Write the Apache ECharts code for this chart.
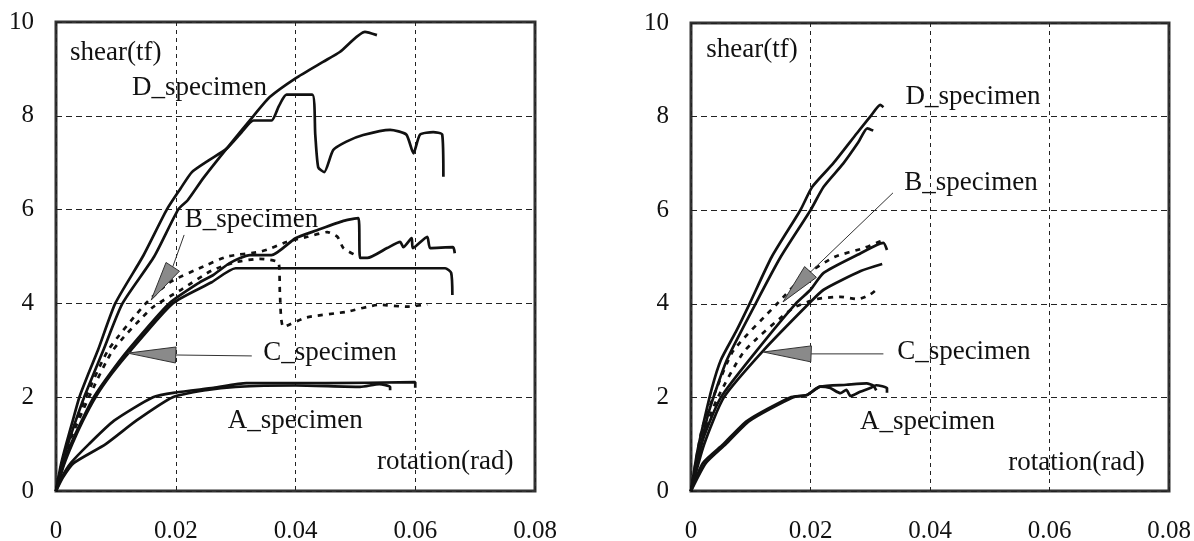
<!DOCTYPE html>
<html>
<head>
<meta charset="utf-8">
<script src="https://cdn.jsdelivr.net/npm/echarts@6/dist/echarts.min.js"></script>
<style>
  html, body { margin: 0; padding: 0; background: #fff; }
  #main { width: 1194px; height: 541px; }
</style>
</head>
<body>
<div id="main"></div>
<script>
// left panel curves [rotation(rad), shear(tf)]
var leftD1 = [[0,0],[0.0008,0.55],[0.0017,1.0],[0.0028,1.5],[0.0039,2.0],[0.0054,2.5],[0.007,3.0],[0.0099,4.0],[0.0145,5.0],[0.0185,6.0],[0.0208,6.45],[0.0227,6.8],[0.0255,7.05],[0.0285,7.3],[0.031,7.65],[0.033,7.9],[0.036,7.9],[0.0372,8.2],[0.0385,8.45],[0.0428,8.45],[0.0433,7.6],[0.0438,6.9],[0.0448,6.8],[0.0463,7.27],[0.0485,7.45],[0.0513,7.59],[0.0558,7.7],[0.0585,7.6],[0.0597,7.2],[0.0608,7.6],[0.063,7.65],[0.0645,7.6],[0.0647,6.7]];
var leftD2 = [[0,0],[0.001,0.55],[0.002,1.0],[0.0033,1.5],[0.0047,2.0],[0.0079,3.0],[0.0111,4.0],[0.0164,5.0],[0.0204,6.0],[0.022,6.2],[0.0246,6.67],[0.0285,7.3],[0.033,8.0],[0.0357,8.4],[0.040,8.8],[0.0446,9.15],[0.0474,9.36],[0.0516,9.79],[0.0536,9.72]];
var leftB = [[0,0],[0.0012,0.55],[0.0025,1.0],[0.0043,1.5],[0.0063,2.0],[0.009,2.5],[0.012,3.0],[0.0189,4.0],[0.024,4.45],[0.0262,4.6],[0.029,4.86],[0.0324,5.03],[0.036,5.03],[0.040,5.39],[0.0436,5.56],[0.048,5.76],[0.0505,5.82],[0.0508,4.97],[0.052,4.97],[0.0553,5.18],[0.0575,5.31],[0.058,5.2],[0.0594,5.39],[0.0596,5.18],[0.062,5.42],[0.0625,5.18],[0.0663,5.2],[0.0666,5.07]];
var leftC = [[0,0],[0.0013,0.55],[0.0027,1.0],[0.0045,1.5],[0.0066,2.0],[0.0093,2.5],[0.0125,3.0],[0.0195,4.0],[0.026,4.45],[0.030,4.75],[0.065,4.75],[0.066,4.65],[0.0662,4.18]];
var leftBDash = [[0,0],[0.001,0.6],[0.0022,1.1],[0.005,2.0],[0.0087,3.0],[0.015,4.0],[0.019,4.45],[0.0252,4.82],[0.0286,5.0],[0.034,5.1],[0.036,5.18],[0.0385,5.31],[0.042,5.42],[0.0453,5.52],[0.047,5.42],[0.048,5.18],[0.050,5.03]];
var leftCDash = [[0,0],[0.0011,0.6],[0.0024,1.1],[0.0055,2.0],[0.0095,3.0],[0.016,3.9],[0.021,4.3],[0.026,4.7],[0.030,4.88],[0.034,4.95],[0.0372,4.86],[0.0374,4.2],[0.038,3.5],[0.0418,3.7],[0.0485,3.82],[0.054,3.97],[0.0586,3.93],[0.062,3.98]];
var leftA1 = [[0,0],[0.001,0.3],[0.0025,0.6],[0.0055,1.0],[0.0097,1.5],[0.0162,2.0],[0.020,2.1],[0.0263,2.2],[0.0318,2.3],[0.045,2.3],[0.060,2.32],[0.060,2.2]];
var leftA2 = [[0,0],[0.0012,0.3],[0.003,0.6],[0.0083,1.0],[0.0134,1.5],[0.0195,2.0],[0.025,2.15],[0.030,2.22],[0.040,2.25],[0.0508,2.22],[0.054,2.28],[0.0558,2.22],[0.0558,2.15]];

// right panel curves
var rightD1 = [[0,0],[0.001,0.8],[0.002,1.4],[0.0035,2.2],[0.005,2.8],[0.0075,3.4],[0.0098,4.0],[0.0135,5.0],[0.0183,6.0],[0.0203,6.5],[0.0238,7.0],[0.0278,7.65],[0.030,8.0],[0.0317,8.25],[0.0322,8.2]];
var rightD2 = [[0,0],[0.0015,0.9],[0.003,1.7],[0.006,2.8],[0.0108,4.0],[0.015,5.0],[0.020,6.0],[0.0222,6.5],[0.0255,7.0],[0.028,7.45],[0.0295,7.75],[0.0305,7.7]];
var rightB = [[0,0],[0.002,1.1],[0.005,2.0],[0.011,3.0],[0.0175,4.0],[0.020,4.3],[0.0222,4.66],[0.0284,5.08],[0.031,5.25],[0.0322,5.3],[0.0328,5.15]];
var rightC = [[0,0],[0.0022,1.0],[0.0055,2.0],[0.0121,3.0],[0.0197,4.0],[0.0222,4.3],[0.0284,4.7],[0.032,4.85]];
var rightBDash = [[0,0],[0.0018,1.3],[0.004,2.1],[0.0071,3.0],[0.0144,4.0],[0.019,4.6],[0.024,5.0],[0.0289,5.19],[0.031,5.3],[0.032,5.35]];
var rightCDash = [[0,0],[0.002,1.2],[0.0045,2.0],[0.009,3.0],[0.017,3.9],[0.021,4.1],[0.025,4.15],[0.028,4.1],[0.030,4.2],[0.031,4.3]];
var rightA1 = [[0,0],[0.002,0.6],[0.0054,1.0],[0.0094,1.5],[0.0166,2.0],[0.0194,2.05],[0.0216,2.23],[0.026,2.27],[0.0294,2.3],[0.0305,2.25],[0.031,2.15]];
var rightA2 = [[0,0],[0.0025,0.6],[0.0058,1.0],[0.0098,1.5],[0.017,2.0],[0.0194,2.05],[0.0216,2.23],[0.0233,2.2],[0.025,2.09],[0.026,2.16],[0.0267,2.03],[0.0283,2.12],[0.030,2.2],[0.031,2.26],[0.0328,2.2],[0.0328,2.1]];

// text annotations: [x, y] and texts
var labelTexts = ['shear(tf)', 'D_specimen', 'B_specimen', 'C_specimen', 'A_specimen', 'rotation(rad)'];
var leftLabelPos = [[0.00234,9.34],[0.0127,8.59],[0.0215,5.78],[0.0346,2.94],[0.0287,1.49],[0.0536,0.62]];
var rightLabelPos = [[0.00256,9.42],[0.0359,8.42],[0.0357,6.58],[0.0345,2.97],[0.0283,1.47],[0.0531,0.6]];

// arrows: [tipX, tipY, baseX, baseY, endX, endY]
var leftArrows = [[0.0159,4.07,0.0195,4.78,0.0214,5.46],[0.012,2.94,0.020,2.9,0.0327,2.88]];
var rightArrows = [[0.0154,4.04,0.020,4.68,0.0338,6.37],[0.0121,2.97,0.0201,2.93,0.0322,2.93]];

var FONT = 'Liberation Serif, Times New Roman, serif';

var myChart = echarts.init(document.getElementById('main'));

function curve(data, idx, dashed) {
  return {
    type: 'line', xAxisIndex: idx, yAxisIndex: idx,
    data: data, showSymbol: false, silent: true,
    smooth: 0.2,
    lineStyle: { color: '#111', width: 2.7, type: dashed ? [5, 6] : 'solid' },
    z: 3
  };
}

function labels(pos, idx) {
  return {
    type: 'custom', xAxisIndex: idx, yAxisIndex: idx, silent: true, clip: false,
    data: pos,
    renderItem: function (params, api) {
      var p = api.coord([api.value(0), api.value(1)]);
      return {
        type: 'text', x: p[0], y: p[1],
        style: {
          text: labelTexts[params.dataIndex], fill: '#111',
          font: '27px ' + FONT, align: 'left', verticalAlign: 'middle'
        }
      };
    },
    z: 5
  };
}

function arrows(data, idx) {
  return {
    type: 'custom', xAxisIndex: idx, yAxisIndex: idx, silent: true, clip: false,
    data: data,
    encode: { x: [0, 2, 4], y: [1, 3, 5] },
    renderItem: function (params, api) {
      var t = api.coord([api.value(0), api.value(1)]);
      var b = api.coord([api.value(2), api.value(3)]);
      var e = api.coord([api.value(4), api.value(5)]);
      var dx = b[0] - t[0], dy = b[1] - t[1];
      var len = Math.sqrt(dx * dx + dy * dy);
      var nx = -dy / len * 8, ny = dx / len * 8;
      return {
        type: 'group',
        children: [
          { type: 'line', shape: { x1: b[0], y1: b[1], x2: e[0], y2: e[1] }, style: { stroke: '#333', lineWidth: 1 } },
          { type: 'polygon', shape: { points: [t, [b[0] + nx, b[1] + ny], [b[0] - nx, b[1] - ny]] },
            style: { fill: '#8a8a8a', stroke: '#333', lineWidth: 1 } }
        ]
      };
    },
    z: 4
  };
}

function xAxis(idx) {
  return {
    type: 'value', gridIndex: idx, min: 0, max: 0.08, interval: 0.02,
    axisLine: { show: false }, axisTick: { show: false },
    axisLabel: {
      margin: 28, color: '#111', fontFamily: FONT, fontSize: 25,
      formatter: function (v) { return v === 0 ? '0' : v.toFixed(2); }
    },
    splitLine: { show: true, lineStyle: { color: '#222', width: 1, type: [4, 4] } }
  };
}

function yAxis(idx) {
  return {
    type: 'value', gridIndex: idx, min: 0, max: 10, interval: 2,
    axisLine: { show: false }, axisTick: { show: false },
    axisLabel: { margin: 22, color: '#111', fontFamily: FONT, fontSize: 25 },
    splitLine: { show: true, lineStyle: { color: '#222', width: 1, type: [6, 4] } }
  };
}

var option = {
  backgroundColor: '#fff',
  animation: false,
  grid: [
    { left: 56, top: 22, width: 479, height: 469, outerBoundsMode: 'none', show: true, borderColor: '#333', borderWidth: 3, backgroundColor: 'transparent' },
    { left: 691, top: 23, width: 478, height: 468, outerBoundsMode: 'none', show: true, borderColor: '#333', borderWidth: 3, backgroundColor: 'transparent' }
  ],
  xAxis: [xAxis(0), xAxis(1)],
  yAxis: [yAxis(0), yAxis(1)],
  series: [
    curve(leftD1, 0), curve(leftD2, 0), curve(leftB, 0), curve(leftC, 0),
    curve(leftBDash, 0, true), curve(leftCDash, 0, true), curve(leftA1, 0), curve(leftA2, 0),
    curve(rightD1, 1), curve(rightD2, 1), curve(rightB, 1), curve(rightC, 1),
    curve(rightBDash, 1, true), curve(rightCDash, 1, true), curve(rightA1, 1), curve(rightA2, 1),
    labels(leftLabelPos, 0), labels(rightLabelPos, 1),
    arrows(leftArrows, 0), arrows(rightArrows, 1)
  ]
};

myChart.setOption(option);
</script>
</body>
</html>
